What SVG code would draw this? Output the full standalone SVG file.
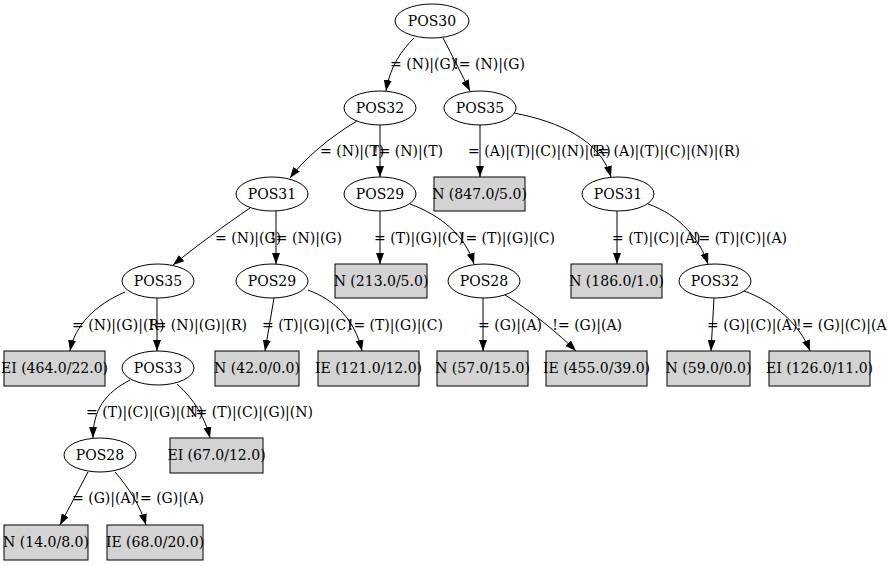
<svg xmlns="http://www.w3.org/2000/svg" width="887" height="566" viewBox="0 0 887 566">
<style>
  text { font-family: "DejaVu Serif", serif; font-size: 14px; fill: #000; }
  .n text, .l text { text-anchor: middle; }
  ellipse { fill: #fff; stroke: #000; stroke-width: 1; }
  rect { fill: #d3d3d3; stroke: #000; stroke-width: 1; }
  .e path { fill: none; stroke: #000; stroke-width: 1; marker-end: url(#ah); }
  .s { text-anchor: start; }
  .t { text-anchor: end; }
</style>
<defs>
  <marker id="ah" markerWidth="11" markerHeight="8" refX="11" refY="4" orient="auto" markerUnits="userSpaceOnUse">
    <path d="M0,0 L11,4 L0,8 Z" fill="#000"/>
  </marker>
</defs>
<rect x="0" y="0" width="887" height="566" style="fill:#fff;stroke:none"/>

<!-- connectors -->
<g id="edges" class="e">
  <path d="M414,38 C402,50 390,66 386,91"/>
  <path d="M443,38 C452,55 462,75 470,91"/>
  <path d="M357,121 C330,137 305,158 290,178"/>
  <path d="M380,125 L380,177"/>
  <path d="M480,125 L480,177"/>
  <path d="M514,113 C560,122 600,140 611,177"/>
  <path d="M250,208 C225,225 195,247 173,265"/>
  <path d="M276,211 L276,264"/>
  <path d="M380,211 L380,264"/>
  <path d="M410,204 C440,215 465,235 474,264"/>
  <path d="M617,211 L617,264"/>
  <path d="M648,204 C680,215 700,240 708,264"/>
  <path d="M125,292 C95,305 75,325 70,351"/>
  <path d="M157,298 L157,351"/>
  <path d="M274,298 L265,351"/>
  <path d="M308,290 C335,300 355,320 362,351"/>
  <path d="M483,298 L483,351"/>
  <path d="M505,295 C530,310 560,335 576,351"/>
  <path d="M714,298 L711,351"/>
  <path d="M744,291 C775,302 800,325 810,351"/>
  <path d="M130,380 C105,393 93,410 93,438"/>
  <path d="M177,384 C195,400 205,418 210,438"/>
  <path d="M88,472 L60,525"/>
  <path d="M115,472 C128,487 140,505 146,525"/>
</g>

<!-- connector labels -->
<g id="edge-labels">
  <text class="s" x="390" y="69">= (N)|(G)</text>
  <text class="t" x="525" y="69">!= (N)|(G)</text>
  <text class="s" x="320" y="156">= (N)|(T)</text>
  <text class="t" x="443" y="156">!= (N)|(T)</text>
  <text class="s" x="468" y="156">= (A)|(T)|(C)|(N)|(R)</text>
  <text class="t" x="740" y="156">!= (A)|(T)|(C)|(N)|(R)</text>
  <text class="s" x="215" y="243">= (N)|(G)</text>
  <text class="t" x="342" y="243">!= (N)|(G)</text>
  <text class="s" x="374" y="243">= (T)|(G)|(C)</text>
  <text class="t" x="555" y="243">!= (T)|(G)|(C)</text>
  <text class="s" x="612" y="243">= (T)|(C)|(A)</text>
  <text class="t" x="787" y="243">!= (T)|(C)|(A)</text>
  <text class="s" x="72" y="330">= (N)|(G)|(R)</text>
  <text class="t" x="247" y="330">!= (N)|(G)|(R)</text>
  <text class="s" x="262" y="330">= (T)|(G)|(C)</text>
  <text class="t" x="443" y="330">!= (T)|(G)|(C)</text>
  <text class="s" x="478" y="330">= (G)|(A)</text>
  <text class="t" x="622" y="330">!= (G)|(A)</text>
  <text class="s" x="707" y="330">= (G)|(C)|(A)</text>
  <text class="s" x="796" y="330">!= (G)|(C)|(A)</text>
  <text class="s" x="86" y="417">= (T)|(C)|(G)|(N)</text>
  <text class="t" x="313" y="417">!= (T)|(C)|(G)|(N)</text>
  <text class="s" x="72" y="503">= (G)|(A)</text>
  <text class="t" x="204" y="503">!= (G)|(A)</text>
</g>

<!-- nodes -->
<g id="pos30" class="n"><ellipse cx="432" cy="21" rx="37" ry="17"/><text x="432" y="26">POS30</text></g>
<g id="pos32" class="n"><ellipse cx="380" cy="108" rx="36" ry="17"/><text x="380" y="113">POS32</text></g>
<g id="pos35" class="n"><ellipse cx="480" cy="108" rx="36" ry="17"/><text x="480" y="113">POS35</text></g>
<g id="pos31" class="n"><ellipse cx="272" cy="194" rx="36" ry="17"/><text x="272" y="199">POS31</text></g>
<g id="pos29" class="n"><ellipse cx="380" cy="194" rx="36" ry="17"/><text x="380" y="199">POS29</text></g>
<g id="leaf-n-847" class="n"><rect x="434" y="177" width="91" height="34"/><text x="479.5" y="199">N (847.0/5.0)</text></g>
<g id="pos31b" class="n"><ellipse cx="618" cy="194" rx="36" ry="17"/><text x="618" y="199">POS31</text></g>
<g id="pos35b" class="n"><ellipse cx="158" cy="281" rx="36" ry="17"/><text x="158" y="286">POS35</text></g>
<g id="pos29b" class="n"><ellipse cx="272" cy="281" rx="36" ry="17"/><text x="272" y="286">POS29</text></g>
<g id="leaf-n-213" class="n"><rect x="335" y="264" width="92" height="34"/><text x="381" y="286">N (213.0/5.0)</text></g>
<g id="pos28" class="n"><ellipse cx="484" cy="281" rx="36" ry="17"/><text x="484" y="286">POS28</text></g>
<g id="leaf-n-186" class="n"><rect x="571" y="264" width="91" height="34"/><text x="616.5" y="286">N (186.0/1.0)</text></g>
<g id="pos32b" class="n"><ellipse cx="715" cy="281" rx="36" ry="17"/><text x="715" y="286">POS32</text></g>
<g id="leaf-ei-464" class="n"><rect x="4" y="351" width="101" height="35"/><text x="54.5" y="373">EI (464.0/22.0)</text></g>
<g id="pos33" class="n"><ellipse cx="158" cy="368" rx="36" ry="17"/><text x="158" y="373">POS33</text></g>
<g id="leaf-n-42" class="n"><rect x="215" y="351" width="84" height="35"/><text x="257" y="373">N (42.0/0.0)</text></g>
<g id="leaf-ie-121" class="n"><rect x="318" y="351" width="101" height="35"/><text x="368.5" y="373">IE (121.0/12.0)</text></g>
<g id="leaf-n-57" class="n"><rect x="437" y="351" width="91" height="35"/><text x="482.5" y="373">N (57.0/15.0)</text></g>
<g id="leaf-ie-455" class="n"><rect x="546" y="351" width="101" height="35"/><text x="596.5" y="373">IE (455.0/39.0)</text></g>
<g id="leaf-n-59" class="n"><rect x="667" y="351" width="83" height="35"/><text x="708.5" y="373">N (59.0/0.0)</text></g>
<g id="leaf-ei-126" class="n"><rect x="769" y="351" width="101" height="35"/><text x="819.5" y="373">EI (126.0/11.0)</text></g>
<g id="pos28b" class="n"><ellipse cx="100" cy="455" rx="36" ry="17"/><text x="100" y="460">POS28</text></g>
<g id="leaf-ei-67" class="n"><rect x="170" y="438" width="93" height="35"/><text x="216.5" y="460">EI (67.0/12.0)</text></g>
<g id="leaf-n-14" class="n"><rect x="4" y="525" width="84" height="35"/><text x="46" y="547">N (14.0/8.0)</text></g>
<g id="leaf-ie-68" class="n"><rect x="107" y="525" width="96" height="35"/><text x="155" y="547">IE (68.0/20.0)</text></g>
</svg>
